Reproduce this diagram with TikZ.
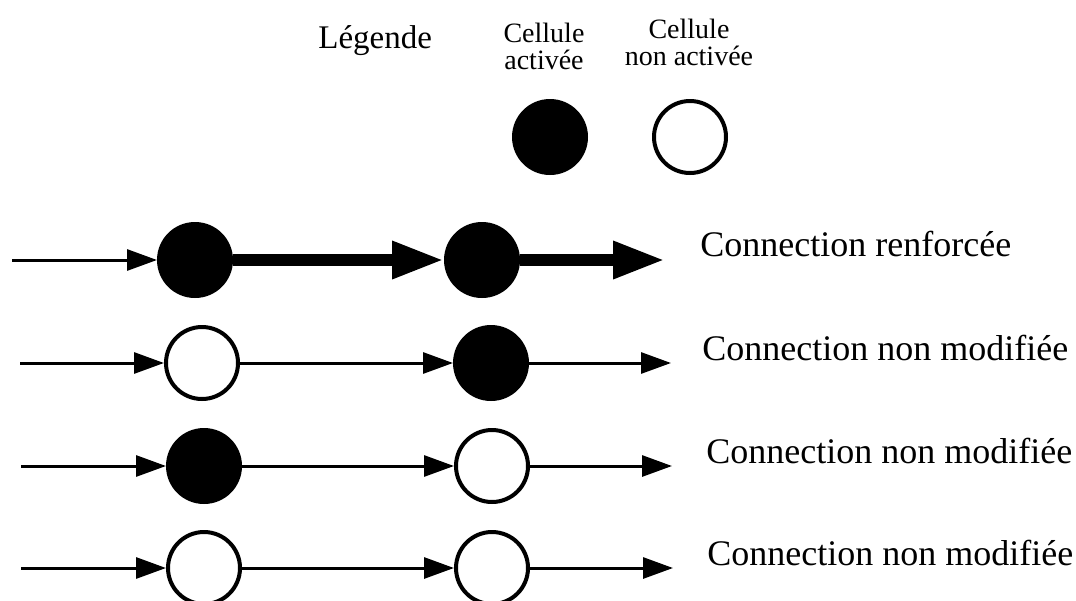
\documentclass[tikz,border=0pt]{standalone}
\usepackage{fontspec}
\setmainfont{Liberation Serif}
\usetikzlibrary{arrows.meta}

\tikzset{
  activee/.style={circle, draw=black, fill=black, line width=2pt, minimum size=36pt, inner sep=0pt},
  inactivee/.style={circle, draw=black, fill=white, line width=2pt, minimum size=36pt, inner sep=0pt},
  fine/.style={black, line width=1.5pt, -{Triangle[length=15pt,width=10.5pt]}},
  forte/.style={black, line width=6pt, -{Triangle[length=26pt,width=17.5pt]}},
  etiquette/.style={anchor=base west, inner sep=0pt, font=\fontsize{18pt}{20pt}\selectfont},
  petit/.style={align=center, inner sep=0pt, font=\fontsize{14pt}{13.5pt}\selectfont}
}

\begin{document}
\begin{tikzpicture}[x=0.5pt,y=-0.5pt]
\useasboundingbox (0,0) rectangle (1076,600);
\clip (0,0) rectangle (1076,600);

% legend:
\node[anchor=base west, inner sep=0pt, font=\fontsize{16.5pt}{18pt}\selectfont] (leg) at (318,48) {Légende};
\node[petit] (legact) at (544,46) {Cellule\\activée};
\node[petit] (legnon) at (689,42) {Cellule\\non activée};
\node[activee] (la) at (550,137) {};
\node[inactivee] (ln) at (690,137) {};

% row 1:
\coordinate (e1) at (12,260);
\node[activee] (c11) at (195,260) {};
\node[activee] (c12) at (482,260) {};
\coordinate (s1) at (665,260);
\draw[fine] (e1) -- (c11);
\draw[forte] (c11) -- (c12);
\draw[forte] (c12) -- (s1);
\node[etiquette] (t1) at (700,256) {Connection renforcée};

% row 2:
\coordinate (e2) at (20,363);
\node[inactivee] (c21) at (202,363) {};
\node[activee] (c22) at (491,363) {};
\coordinate (s2) at (671,363);
\draw[fine] (e2) -- (c21);
\draw[fine] (c21) -- (c22);
\draw[fine] (c22) -- (s2);
\node[etiquette] (t2) at (702,360) {Connection non modifiée};

% row 3:
\coordinate (e3) at (21,466);
\node[activee] (c31) at (204,466) {};
\node[inactivee] (c32) at (492,466) {};
\coordinate (s3) at (672,466);
\draw[fine] (e3) -- (c31);
\draw[fine] (c31) -- (c32);
\draw[fine] (c32) -- (s3);
\node[etiquette] (t3) at (706,463) {Connection non modifiée};

% row 4:
\coordinate (e4) at (21,568);
\node[inactivee] (c41) at (204,568) {};
\node[inactivee] (c42) at (492,568) {};
\coordinate (s4) at (673,568);
\draw[fine] (e4) -- (c41);
\draw[fine] (c41) -- (c42);
\draw[fine] (c42) -- (s4);
\node[etiquette] (t4) at (707,565) {Connection non modifiée};

\end{tikzpicture}
\end{document}
